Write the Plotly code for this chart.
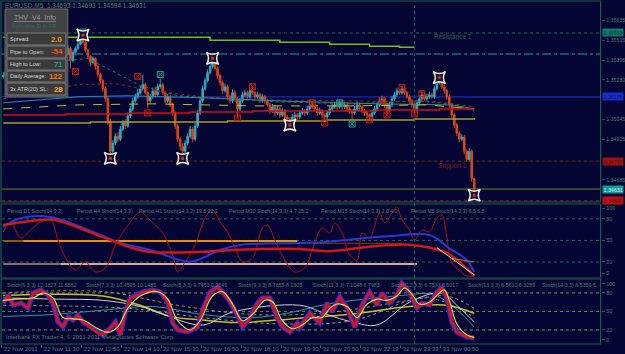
import plotly.graph_objects as go

# ---------------- DATA ----------------
bar_index = list(range(190))

opens = [1.35299, 1.35305, 1.35323, 1.35287, 1.35335, 1.35359, 1.35323, 1.35275, 1.35299, 1.35335,
         1.35371, 1.35395, 1.35359, 1.35407, 1.35443, 1.35419, 1.35383, 1.35407, 1.35455, 1.35431,
         1.35395, 1.35419, 1.35455, 1.35479, 1.35443, 1.35407, 1.35431, 1.35467, 1.35395, 1.35443,
         1.35467, 1.35491, 1.35515, 1.35503, 1.35455, 1.35419, 1.35383, 1.35407, 1.35359, 1.35311,
         1.35275, 1.35227, 1.35167, 1.35035, 1.34855, 1.34903, 1.34945, 1.34927, 1.34987, 1.35023,
         1.35005, 1.35065, 1.35107, 1.35155, 1.35179, 1.35203, 1.35227, 1.35251, 1.35203, 1.35155,
         1.35179, 1.35215, 1.35191, 1.35239, 1.35251, 1.35203, 1.35155, 1.35179, 1.35131, 1.35083,
         1.35005, 1.34927, 1.34885, 1.34855, 1.34903, 1.34945, 1.34987, 1.34927, 1.35005, 1.35083,
         1.35155, 1.35227, 1.35275, 1.35323, 1.35359, 1.35383, 1.35347, 1.35305, 1.35263, 1.35215,
         1.35239, 1.35179, 1.35155, 1.35203, 1.35167, 1.35107, 1.35155, 1.35191, 1.35203, 1.35179,
         1.35215, 1.35203, 1.35179, 1.35191, 1.35155, 1.35179, 1.35155, 1.35131, 1.35095, 1.35119,
         1.35083, 1.35107, 1.35071, 1.35095, 1.35059, 1.35047, 1.35035, 1.35059, 1.35071, 1.35059,
         1.35083, 1.35095, 1.35083, 1.35107, 1.35131, 1.35119, 1.35107, 1.35083, 1.35095, 1.35071,
         1.35059, 1.35083, 1.35107, 1.35119, 1.35131, 1.35119, 1.35143, 1.35119, 1.35131, 1.35107,
         1.35095, 1.35083, 1.35107, 1.35131, 1.35119, 1.35095, 1.35083, 1.35071, 1.35059, 1.35083,
         1.35107, 1.35131, 1.35155, 1.35167, 1.35131, 1.35095, 1.35131, 1.35167, 1.35191, 1.35215,
         1.35203, 1.35227, 1.35203, 1.35179, 1.35155, 1.35131, 1.35107, 1.35143, 1.35167, 1.35191,
         1.35167, 1.35179, 1.35191, 1.35179, 1.35227, 1.35263, 1.35275, 1.35239, 1.35215, 1.35179,
         1.35131, 1.35071, 1.35011, 1.34963, 1.34927, 1.34939, 1.34855, 1.34807, 1.34855, 1.34693]

highs = [1.35323, 1.35335, 1.35341, 1.35347, 1.35377, 1.35371, 1.35335, 1.35311, 1.35347, 1.35389,
         1.35413, 1.35407, 1.35419, 1.35461, 1.35455, 1.35425, 1.35419, 1.35467, 1.35473, 1.35437,
         1.35431, 1.35467, 1.35497, 1.35485, 1.35449, 1.35443, 1.35485, 1.35479, 1.35455, 1.35479,
         1.35509, 1.35533, 1.35545, 1.35515, 1.35461, 1.35425, 1.35419, 1.35413, 1.35371, 1.35323,
         1.35287, 1.35239, 1.35179, 1.35047, 1.34921, 1.34963, 1.34969, 1.35005, 1.35041, 1.35047,
         1.35083, 1.35125, 1.35173, 1.35197, 1.35227, 1.35245, 1.35311, 1.35263, 1.35215, 1.35197,
         1.35233, 1.35239, 1.35257, 1.35287, 1.35263, 1.35215, 1.35197, 1.35191, 1.35143, 1.35095,
         1.35017, 1.34939, 1.34903, 1.34921, 1.34963, 1.35005, 1.34999, 1.35023, 1.35101, 1.35173,
         1.35245, 1.35293, 1.35341, 1.35377, 1.35407, 1.35395, 1.35359, 1.35317, 1.35275, 1.35257,
         1.35251, 1.35191, 1.35221, 1.35215, 1.35179, 1.35173, 1.35209, 1.35221, 1.35215, 1.35233,
         1.35245, 1.35215, 1.35209, 1.35203, 1.35197, 1.35191, 1.35167, 1.35143, 1.35137, 1.35131,
         1.35125, 1.35119, 1.35113, 1.35107, 1.35071, 1.35059, 1.35077, 1.35089, 1.35083, 1.35101,
         1.35113, 1.35107, 1.35125, 1.35149, 1.35149, 1.35131, 1.35119, 1.35113, 1.35107, 1.35083,
         1.35101, 1.35125, 1.35137, 1.35149, 1.35143, 1.35161, 1.35155, 1.35149, 1.35143, 1.35119,
         1.35107, 1.35125, 1.35149, 1.35143, 1.35131, 1.35107, 1.35095, 1.35083, 1.35101, 1.35125,
         1.35149, 1.35173, 1.35185, 1.35179, 1.35143, 1.35149, 1.35185, 1.35209, 1.35233, 1.35227,
         1.35245, 1.35239, 1.35215, 1.35191, 1.35167, 1.35143, 1.35161, 1.35185, 1.35215, 1.35203,
         1.35197, 1.35209, 1.35203, 1.35245, 1.35281, 1.35293, 1.35287, 1.35251, 1.35227, 1.35191,
         1.35143, 1.35083, 1.35023, 1.34975, 1.34957, 1.34951, 1.34867, 1.34873, 1.34867, 1.34693]

lows = [1.35287, 1.35293, 1.35275, 1.35281, 1.35323, 1.35311, 1.35263, 1.35257, 1.35293, 1.35329,
        1.35359, 1.35347, 1.35353, 1.35395, 1.35407, 1.35371, 1.35377, 1.35401, 1.35419, 1.35383,
        1.35389, 1.35413, 1.35449, 1.35431, 1.35395, 1.35401, 1.35425, 1.35347, 1.35383, 1.35437,
        1.35455, 1.35485, 1.35491, 1.35443, 1.35407, 1.35359, 1.35371, 1.35341, 1.35293, 1.35257,
        1.35209, 1.35149, 1.35011, 1.34813, 1.34837, 1.34891, 1.34909, 1.34915, 1.34975, 1.34987,
        1.34993, 1.35053, 1.35095, 1.35143, 1.35167, 1.35191, 1.35215, 1.35191, 1.35113, 1.35143,
        1.35167, 1.35173, 1.35179, 1.35227, 1.35191, 1.35143, 1.35143, 1.35119, 1.35065, 1.34987,
        1.34909, 1.34861, 1.34813, 1.34843, 1.34891, 1.34933, 1.34909, 1.34915, 1.34993, 1.35071,
        1.35143, 1.35215, 1.35263, 1.35311, 1.35347, 1.35335, 1.35287, 1.35245, 1.35197, 1.35203,
        1.35161, 1.35137, 1.35143, 1.35149, 1.35059, 1.35095, 1.35143, 1.35179, 1.35167, 1.35167,
        1.35191, 1.35167, 1.35167, 1.35143, 1.35143, 1.35137, 1.35119, 1.35077, 1.35083, 1.35065,
        1.35071, 1.35053, 1.35059, 1.35041, 1.35029, 1.35011, 1.35023, 1.35047, 1.35041, 1.35047,
        1.35071, 1.35065, 1.35071, 1.35095, 1.35107, 1.35089, 1.35065, 1.35071, 1.35053, 1.35029,
        1.35047, 1.35071, 1.35095, 1.35107, 1.35101, 1.35107, 1.35101, 1.35107, 1.35089, 1.35077,
        1.35023, 1.35071, 1.35095, 1.35101, 1.35083, 1.35065, 1.35053, 1.35041, 1.35047, 1.35071,
        1.35095, 1.35119, 1.35143, 1.35113, 1.35071, 1.35083, 1.35119, 1.35155, 1.35179, 1.35191,
        1.35191, 1.35191, 1.35167, 1.35137, 1.35113, 1.35077, 1.35095, 1.35131, 1.35155, 1.35155,
        1.35155, 1.35167, 1.35167, 1.35167, 1.35215, 1.35251, 1.35227, 1.35197, 1.35161, 1.35113,
        1.35053, 1.34993, 1.34945, 1.34909, 1.34915, 1.34837, 1.34795, 1.34795, 1.34675, 1.34594]

closes = [1.35305, 1.35323, 1.35287, 1.35335, 1.35359, 1.35323, 1.35275, 1.35299, 1.35335, 1.35371,
          1.35395, 1.35359, 1.35407, 1.35443, 1.35419, 1.35383, 1.35407, 1.35455, 1.35431, 1.35395,
          1.35419, 1.35455, 1.35479, 1.35443, 1.35407, 1.35431, 1.35467, 1.35395, 1.35443, 1.35467,
          1.35491, 1.35515, 1.35503, 1.35455, 1.35419, 1.35383, 1.35407, 1.35359, 1.35311, 1.35275,
          1.35227, 1.35167, 1.35035, 1.34855, 1.34903, 1.34945, 1.34927, 1.34987, 1.35023, 1.35005,
          1.35065, 1.35107, 1.35155, 1.35179, 1.35203, 1.35227, 1.35251, 1.35203, 1.35155, 1.35179,
          1.35215, 1.35191, 1.35239, 1.35251, 1.35203, 1.35155, 1.35179, 1.35131, 1.35083, 1.35005,
          1.34927, 1.34885, 1.34855, 1.34903, 1.34945, 1.34987, 1.34927, 1.35005, 1.35083, 1.35155,
          1.35227, 1.35275, 1.35323, 1.35359, 1.35383, 1.35347, 1.35305, 1.35263, 1.35215, 1.35239,
          1.35179, 1.35155, 1.35203, 1.35167, 1.35107, 1.35155, 1.35191, 1.35203, 1.35179, 1.35215,
          1.35203, 1.35179, 1.35191, 1.35155, 1.35179, 1.35155, 1.35131, 1.35095, 1.35119, 1.35083,
          1.35107, 1.35071, 1.35095, 1.35059, 1.35047, 1.35035, 1.35059, 1.35071, 1.35059, 1.35083,
          1.35095, 1.35083, 1.35107, 1.35131, 1.35119, 1.35107, 1.35083, 1.35095, 1.35071, 1.35059,
          1.35083, 1.35107, 1.35119, 1.35131, 1.35119, 1.35143, 1.35119, 1.35131, 1.35107, 1.35095,
          1.35083, 1.35107, 1.35131, 1.35119, 1.35095, 1.35083, 1.35071, 1.35059, 1.35083, 1.35107,
          1.35131, 1.35155, 1.35167, 1.35131, 1.35095, 1.35131, 1.35167, 1.35191, 1.35215, 1.35203,
          1.35227, 1.35203, 1.35179, 1.35155, 1.35131, 1.35107, 1.35143, 1.35167, 1.35191, 1.35167,
          1.35179, 1.35191, 1.35179, 1.35227, 1.35263, 1.35275, 1.35239, 1.35215, 1.35179, 1.35131,
          1.35071, 1.35011, 1.34963, 1.34927, 1.34939, 1.34855, 1.34807, 1.34855, 1.34693, 1.34631]

# moving averages / envelopes on price panel (bar index, price)
ma_teal_dot_idx = [0, 20, 34, 45, 55, 70, 90, 110, 140, 165, 180, 189]
ma_teal_dot = [1.35323, 1.35383, 1.35407, 1.35323, 1.35245, 1.35185, 1.35167, 1.35149, 1.35137, 1.35155, 1.35137, 1.35095]
ma_red_dot_idx = [0, 15, 30, 45, 60, 80, 100, 130, 160, 175, 189]
ma_red_dot = [1.35167, 1.35215, 1.35251, 1.35257, 1.35215, 1.35179, 1.35161, 1.35155, 1.35149, 1.35149, 1.35119]
ma_teal_idx = [0, 30, 50, 80, 110, 150, 180, 189]
ma_teal = [1.35143, 1.35179, 1.35185, 1.35173, 1.35155, 1.35137, 1.35131, 1.35107]
ma_yellow_dash_idx = [0, 30, 60, 100, 140, 170, 189]
ma_yellow_dash = [1.35107, 1.35131, 1.35137, 1.35125, 1.35125, 1.35131, 1.35107]
ma_red_step_idx = [0, 25, 50, 75, 100, 125, 150, 175, 189]
ma_red_step = [1.35071, 1.35077, 1.35083, 1.35089, 1.35095, 1.35095, 1.35101, 1.35107, 1.35107]
ma_olive_step_idx = [0, 35, 90, 130, 165, 189]
ma_olive_step = [1.35023, 1.35029, 1.35035, 1.35041, 1.35047, 1.35053]
lime_step_idx = [0, 83, 111, 131, 147, 159, 165]
lime_step = [1.35533, 1.35515, 1.35503, 1.35491, 1.35479, 1.35473, 1.35473]

resistance_1 = 1.35558
dashdot_level = 1.35433
blue_level = 1.35178
support_1 = 1.34797
bid_price = 1.34631
red_level = 1.34560

star_idx = [32, 43, 72, 84, 115, 175, 189]
star_price = [1.35545, 1.34813, 1.34813, 1.35407, 1.35011, 1.35293, 1.34594]
fractal_red_idx = [29, 54, 58, 94, 100, 124, 129, 147, 152, 154, 160, 165, 168]
fractal_red = [1.35329, 1.35299, 1.35083, 1.35053, 1.35239, 1.35143, 1.35023, 1.35041, 1.35155, 1.35071, 1.35233, 1.35077, 1.35197]
fractal_teal_idx = [32, 63, 135, 140]
fractal_teal = [1.35563, 1.35311, 1.35143, 1.35017]

price_ticks = [1.35635, 1.35515, 1.35395, 1.35280, 1.35045, 1.34925, 1.34685]

time_label_bars = [0, 16, 32, 48, 64, 80, 96, 112, 128, 144, 160, 176]
time_labels = ["22 Nov 2011", "22 Nov 11:30", "22 Nov 12:50", "22 Nov 14:10", "22 Nov 15:30",
               "22 Nov 16:50", "22 Nov 18:10", "22 Nov 19:30", "22 Nov 20:50", "22 Nov 22:13",
               "22 Nov 23:33", "23 Nov 00:50"]
day_separator_bar = 165.1

# MTF stochastic panel
d1_idx = [0, 15, 21, 39, 52, 59, 79, 92, 119, 131, 146, 163, 178, 183, 187, 189]
d1_val = [71.5, 78.5, 78.5, 56, 39, 34, 34, 36.7, 38, 35, 41, 44, 32.5, 20, 7.4, 0.5]
h4_idx = [0, 7, 19, 39, 47, 59, 75, 87, 95, 119, 129, 155, 171, 179, 186, 189]
h4_val = [68.8, 81, 82.7, 57.6, 46.5, 36.7, 20.5, 36.7, 43.7, 46.5, 47.9, 56, 57.6, 39, 22.7, 6]
m5_idx = [0, 3, 7, 11, 15, 19, 22, 25, 29, 33, 37, 41, 45, 51, 55, 58, 61, 64, 68, 70,
          73, 77, 81, 84, 87, 90, 93, 96, 100, 104, 106, 109, 113, 117, 121, 124, 128, 131, 133, 136,
          139, 142, 144, 147, 151, 153, 156, 158, 160, 163, 165, 168, 171, 174, 176, 178, 180, 183, 186, 189]
m5_val = [61.8, 75.7, 53.4, 64.6, 75.7, 78.5, 50.6, 25.5, 8.8, 20, 6, 11.6, 43.7, 75.7, 89.7, 81.3, 71.5, 60.4, 29.7, 6,
          20, 43.7, 81.3, 92.5, 75.7, 61.8, 39.5, 20, 25.5, 67.4, 71.5, 50.6, 22.7, 6, 11.6, 36.7, 67.4, 60.4, 74.3, 60.4,
          29.7, 22.7, 60.4, 53.4, 88.3, 74.3, 88.3, 96.7, 78.5, 64.6, 50.6, 64.6, 61.8, 81.3, 85.5, 54.8, 18.6, 8.8, 0.5, 0.5]
h1_level_idx = [0, 8, 118]
h1_level = [49.2, 49.2, 49.2]
h1_tail_idx = [118, 160]
h1_tail = [46, 46]
m30_level_idx = [0, 23, 166]
m30_level = [17.2, 17.2, 17.2]
end_white_idx = [174, 189]
end_white = [40, 2]
end_orange_idx = [180, 189]
end_orange = [25, 20]

# multi-period stochastic panel
fast_idx = [0, 2, 4, 7, 10, 12, 15, 18, 20, 22, 24, 26, 28, 30, 32, 35, 38, 40, 43, 45,
            47, 49, 51, 54, 56, 60, 63, 66, 68, 70, 74, 78, 80, 83, 86, 88, 91, 94, 96, 99,
            102, 104, 107, 110, 112, 115, 118, 119, 123, 127, 130, 132, 135, 138, 141, 144, 147, 150, 152, 155,
            158, 160, 163, 166, 168, 171, 174, 176, 178, 180, 182, 186, 189]
fast_val = [63.7, 76.7, 60.5, 63.7, 55.6, 79.9, 84.8, 76.7, 63.7, 32.9, 24.8, 41, 36.1, 44.2, 32.9, 24.8, 15.1, 11.8, 23.2, 32.9,
            11.8, 49.1, 71.8, 76.7, 81.5, 84.8, 81.5, 65.3, 31.3, 19.9, 16.7, 24.8, 52.4, 81.5, 89.6, 81.5, 65.3, 44.2, 24.8, 39.4,
            63.7, 71.8, 71.8, 39.4, 24.8, 16.7, 31.3, 23.2, 47.5, 31.3, 63.7, 49.1, 73.4, 55.6, 24.8, 60.5, 81.5, 60.5, 79.9, 63.7,
            76.7, 96.1, 81.5, 55.6, 63.7, 60.5, 81.5, 88, 71.8, 32.9, 16.7, 8.6, 7]
signal_idx = [0, 5, 12, 16, 20, 24, 28, 32, 38, 42, 46, 50, 55, 62, 66, 70, 75, 79, 84, 88,
              92, 96, 100, 105, 108, 112, 116, 120, 124, 128, 131, 134, 138, 142, 146, 150, 154, 158, 161, 164,
              167, 171, 175, 177, 179, 182, 186, 189]
signal_val = [68, 70, 72, 80, 72, 40, 38, 36, 22, 16, 25, 55, 75, 82, 70, 35, 20, 35, 75, 82,
              62, 35, 45, 68, 66, 35, 22, 28, 40, 40, 55, 62, 58, 40, 62, 70, 68, 75, 88, 78,
              62, 65, 80, 85, 68, 30, 12, 8]
white_idx = [0, 20, 40, 55, 63, 80, 92, 119, 130, 140, 150, 163, 176, 182, 189]
white_val = [72, 70, 68, 58, 47, 28, 49, 60, 45, 33, 28, 65, 80, 60, 33]
teal_idx = [0, 20, 40, 60, 80, 100, 115, 130, 145, 160, 172, 180, 189]
teal_val = [42, 45, 52, 58, 45, 40, 48, 62, 70, 76, 78, 60, 25]
slow_idx = [0, 20, 40, 55, 67, 80, 93, 110, 119, 140, 163, 178, 189]
slow_val = [76, 78, 75, 60, 42, 36, 32, 36, 39, 46, 58, 60, 47]
olive_dot_idx = [0, 40, 70, 100, 130, 163, 178, 189]
olive_dot_val = [80, 82, 60, 45, 48, 68, 75, 55]
gray_dot_idx = [0, 50, 80, 110, 140, 170, 189]
gray_dot_val = [60, 55, 40, 30, 35, 72, 40]

# ---------------- STYLE / LAYOUT HELPERS ----------------
W, H = 625, 354
def PX(x):
    return x / W
def PY(y):
    return 1 - y / H

BG = "#050533"
BORDER = "#1b5a4c"
TXT = "#4f7f66"
AX = "#4d7d6d"
FONT = "Liberation Sans"

fig = go.Figure()

def line(xs, ys, color, width=1, dash="solid", yaxis="y", xaxis="x", shape="linear"):
    fig.add_trace(go.Scatter(x=xs, y=ys, mode="lines", xaxis=xaxis, yaxis=yaxis,
                             line=dict(color=color, width=width, dash=dash, shape=shape),
                             hoverinfo="skip", showlegend=False))

# price panel lines
line(lime_step_idx, lime_step, "#74c010", 1.5, shape="hv")
line(ma_teal_dot_idx, ma_teal_dot, "#1a7a6a", 1, "dot")
line(ma_red_dot_idx, ma_red_dot, "#a02010", 1, "dot")
line(ma_teal_idx, ma_teal, "#2a8a9a", 1)
line(ma_yellow_dash_idx, ma_yellow_dash, "#c8c020", 1, "dash")
line(ma_red_step_idx, ma_red_step, "#d01010", 1.5, shape="hv")
line(ma_olive_step_idx, ma_olive_step, "#a8a020", 1.5, shape="hv")

fig.add_trace(go.Candlestick(
    x=bar_index, open=opens, high=highs, low=lows, close=closes,
    increasing=dict(line=dict(color="#3aaabb", width=1), fillcolor="#3aaabb"),
    decreasing=dict(line=dict(color="#d8461a", width=1), fillcolor="#e0501a"),
    whiskerwidth=0, xaxis="x", yaxis="y", showlegend=False, hoverinfo="skip"))

fig.add_trace(go.Scatter(x=fractal_red_idx, y=fractal_red, mode="markers", xaxis="x", yaxis="y",
                         marker=dict(symbol="square-x-open", size=6, color="#c02010", line=dict(width=1)),
                         hoverinfo="skip", showlegend=False))
fig.add_trace(go.Scatter(x=fractal_teal_idx, y=fractal_teal, mode="markers", xaxis="x", yaxis="y",
                         marker=dict(symbol="square-x-open", size=6, color="#20a08a", line=dict(width=1)),
                         hoverinfo="skip", showlegend=False))
fig.add_trace(go.Scatter(x=star_idx, y=star_price, mode="markers", xaxis="x", yaxis="y",
                         marker=dict(symbol="star-square", size=11, color="#101040",
                                     line=dict(color="#f4f0d8", width=1.5)),
                         hoverinfo="skip", showlegend=False))
fig.add_trace(go.Scatter(x=star_idx, y=star_price, mode="markers", xaxis="x", yaxis="y",
                         marker=dict(symbol="square", size=3, color="#d03010"),
                         hoverinfo="skip", showlegend=False))

# MTF stochastic panel
line(m30_level_idx[:2], m30_level[:2], "#8a6a6a", 2, yaxis="y2", xaxis="x2")
line(m30_level_idx[1:], m30_level[1:], "#d8a898", 2, yaxis="y2", xaxis="x2")
line(h1_level_idx[:2], h1_level[:2], "#8a5a10", 2, yaxis="y2", xaxis="x2")
line(h1_level_idx[1:], h1_level[1:], "#e09010", 2, yaxis="y2", xaxis="x2")
line(h1_tail_idx, h1_tail, "#8a3a10", 1, yaxis="y2", xaxis="x2")
line(m5_idx, m5_val, "#b01010", 1, yaxis="y2", xaxis="x2", shape="spline")
line(h4_idx, h4_val, "#2838d0", 2, yaxis="y2", xaxis="x2", shape="spline")
line(d1_idx, d1_val, "#d01818", 2.5, yaxis="y2", xaxis="x2", shape="spline")
line(end_orange_idx, end_orange, "#c07030", 1, yaxis="y2", xaxis="x2")
line(end_white_idx, end_white, "#e0e0c0", 1, yaxis="y2", xaxis="x2")

# multi-period stochastic panel
line(gray_dot_idx, gray_dot_val, "#9a9a8a", 1, "dot", yaxis="y3", xaxis="x3", shape="spline")
line(olive_dot_idx, olive_dot_val, "#a09a30", 1, "dot", yaxis="y3", xaxis="x3", shape="spline")
line(teal_idx, teal_val, "#2a9a9a", 1, yaxis="y3", xaxis="x3", shape="spline")
line(slow_idx, slow_val, "#c8c020", 1.5, yaxis="y3", xaxis="x3", shape="spline")
line(white_idx, white_val, "#d0d0d0", 1, yaxis="y3", xaxis="x3", shape="spline")
line(fast_idx, fast_val, "#1f2fd8", 5, yaxis="y3", xaxis="x3")
line(fast_idx, fast_val, "#e81010", 2.5, yaxis="y3", xaxis="x3")
line(signal_idx, signal_val, "#f0e030", 1.1, yaxis="y3", xaxis="x3", shape="spline")

shapes = []
def hline(y, color, dash="solid", width=1, yref="y"):
    shapes.append(dict(type="line", xref="paper", yref=yref, x0=PX(2), x1=PX(602), y0=y, y1=y,
                       line=dict(color=color, width=width, dash=dash), layer="below"))

hline(resistance_1, "#1a6a40", "dot")
hline(dashdot_level, "#20a0a0", "dashdot")
hline(blue_level, "#1a2ab0", "solid", 1.2)
hline(support_1, "#8a2010", "dot")
hline(bid_price, "#807a30", "solid")
hline(red_level, "#c02020", "dot")
for v in (80, 50, 20):
    hline(v, "#1f6a5a", "dot", 1, "y2")
hline(80, "#8a8a50", "dot", 1, "y3")
hline(50, "#7a7a30", "dot", 1, "y3")
hline(20, "#8a8a70", "dot", 1, "y3")

# panel borders
for (t, b) in ((1, 202), (204, 278), (279, 344)):
    shapes.append(dict(type="rect", xref="paper", yref="paper", x0=PX(1), x1=PX(602.5),
                       y0=PY(b), y1=PY(t), line=dict(color=BORDER, width=1.2), layer="above"))
# day separator
shapes.append(dict(type="line", xref="x", yref="paper", x0=day_separator_bar, x1=day_separator_bar,
                   y0=PY(344), y1=PY(1), line=dict(color="#1e6e4e", width=1, dash="dot"), layer="above"))

# info panel
shapes.append(dict(type="rect", xref="paper", yref="paper", x0=PX(5), x1=PX(68), y0=PY(97), y1=PY(9),
                   fillcolor="rgba(72,72,72,0.92)", line=dict(color="#6a6a6a", width=1), layer="above"))
rows = [(33, 45), (46, 58), (59, 70), (71, 82), (83, 95)]
for (t, b) in rows:
    shapes.append(dict(type="rect", xref="paper", yref="paper", x0=PX(7), x1=PX(66), y0=PY(b), y1=PY(t),
                       fillcolor="rgba(58,58,58,1)", line=dict(color="#7a7a7a", width=1), layer="above"))

annotations = []
def text(x, y, s, color=TXT, size=5.8, xanchor="left", yref="paper", xref="paper", **kw):
    annotations.append(dict(x=x, y=y, xref=xref, yref=yref, text=s, showarrow=False,
                            xanchor=xanchor, yanchor="middle",
                            font=dict(family=FONT, size=size, color=color), **kw))

text(PX(3), PY(6), "EURUSD,M5  1.34693 1.34693 1.34594 1.34631", TXT, 6.5)
text(PX(12), PY(18), "<u>THV  V4  Info</u>", "#9a9a9a", 7)
text(PX(10), PY(26), "Indicator D in FF", "#2a6a6a", 6)
info_labels = ["Spread:", "Pipe to Open:", "High to Low:", "Daily Average:", "3x ATR(20) SL:"]
info_values = ["2.0", "-54", "71", "122", "28"]
info_colors = ["#e8a020", "#ff5020", "#20a080", "#ff7a20", "#ffb020"]
for (t, b), lab, val, col in zip(rows, info_labels, info_values, info_colors):
    yc = (t + b) / 2
    text(PX(8), PY(yc), lab, "#d8d8d8", 5.6)
    text(PX(65.5), PY(yc), "<b>" + val + "</b>", col, 7.8, xanchor="right")

text(PX(433), PY(37), "Resistance 1", "#1a6a40", 6.5)
text(PX(437), PY(166), "Support 1", "#7a2010", 6.5)

mtf_headers = [(5, "Period D1 Stoch(14,3,3)"), (75, "Period H4 Stoch(14,3,3)"),
               (137, "Period H1 Stoch(14,3,3) 19.8 22.3"), (228, "Period M30 Stoch(14,3,3) 4.7 25.2"),
               (320, "Period M15 Stoch(14,3,3) 3.0 4.0"), (410, "Period M5 Stoch(14,3,3) 6.5 6.5")]
for x, s in mtf_headers:
    text(PX(x), PY(211), s, TXT, 5.2)
stoch_headers = [(5, "Stoch(6,3,3) 12.1827 11.5552"), (84, "Stoch(7,3,3) 10.4595 10.1485"),
                 (162, "Stoch(8,3,3) 9.7453 9.0645"), (237, "Stoch(9,3,3) 8.7655 8.0308"),
                 (312, "Stoch(11,3,3) 7.1048 6.7983"), (390, "Stoch(12,3,3) 6.7533 6.6017"),
                 (467, "Stoch(13,3,3) 6.5610 6.3289"), (542, "Stoch(14,3,3) 6.5359 6.")]
for x, s in stoch_headers:
    text(PX(x), PY(285), s, TXT, 5.3)
text(PX(4), PY(337), "Interbank FX Trader 4, © 2001-2011 MetaQuotes Software Corp.", TXT, 5.9)

for b, s in zip(time_label_bars, time_labels):
    text(b - 0.5, PY(349), s, AX, 6, xref="x3")

# price boxes on right axis
boxes = [(resistance_1, "1.35558", "#0f7a6a", "#0a3a30"),
         (blue_level, "1.35178", "#1a2ad0", "#0a1060"),
         (support_1, "1.34797", "#a01010", "#501010"),
         (bid_price, "1.34631", "#109a9a", "#d0f0f0"),
         (red_level, "1.34560", "#c01010", "#601010")]
for y, s, bg, fc in boxes:
    annotations.append(dict(x=PX(604), y=y, xref="paper", yref="y", text=s, showarrow=False,
                            xanchor="left", yanchor="middle", bgcolor=bg, borderpad=0.5,
                            font=dict(family=FONT, size=5.3, color=fc)))

axis_common = dict(showgrid=False, zeroline=False, showline=False)
fig.update_layout(
    width=W, height=H, margin=dict(l=0, r=0, t=0, b=0),
    paper_bgcolor=BG, plot_bgcolor=BG, showlegend=False, boxgap=0.12,
    font=dict(family=FONT, color=AX),
    xaxis=dict(domain=[PX(2), PX(603)], range=[-0.5, 239.9], anchor="y", showticklabels=False,
               ticks="", rangeslider=dict(visible=False), **axis_common),
    xaxis2=dict(domain=[PX(2), PX(603)], matches="x", anchor="y2", showticklabels=False, ticks="",
                **axis_common),
    xaxis3=dict(domain=[PX(2), PX(603)], matches="x", anchor="y3", showticklabels=False,
                ticks="outside", ticklen=3, tickcolor=BORDER,
                tickvals=[b - 0.5 for b in time_label_bars], **axis_common),
    yaxis=dict(domain=[PY(202), PY(3)], range=[1.34554, 1.35736], anchor="x", side="right",
               tickvals=price_ticks, ticktext=["%.5f" % p for p in price_ticks],
               ticks="outside", ticklen=3, tickcolor=BORDER,
               tickfont=dict(family=FONT, size=5.3, color=AX), **axis_common),
    yaxis2=dict(domain=[PY(278), PY(204)], range=[-2.4, 100.8], anchor="x2", side="right",
                tickvals=[95, 80, 50, 20, 4.5], ticktext=["100", "80", "50", "20", "0"],
                ticks="outside", ticklen=3, tickcolor=BORDER,
                tickfont=dict(family=FONT, size=5.5, color=AX), **axis_common),
    yaxis3=dict(domain=[PY(344), PY(279)], range=[-2.8, 102.6], anchor="x3", side="right",
                tickvals=[95, 80, 50, 20, 4], ticktext=["100", "80", "50", "20", "0"],
                ticks="outside", ticklen=3, tickcolor=BORDER,
                tickfont=dict(family=FONT, size=5.5, color=AX), **axis_common),
    shapes=shapes, annotations=annotations,
)

fig.write_html("out.html")
